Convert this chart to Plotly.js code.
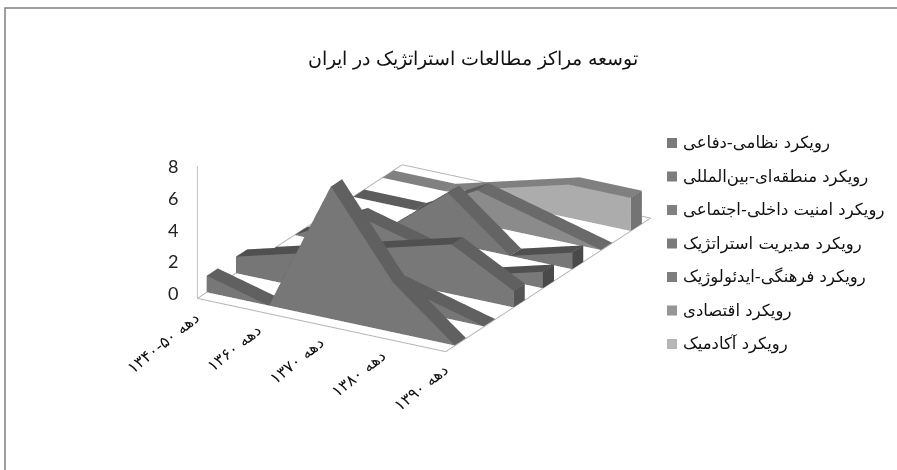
<!DOCTYPE html>
<html><head><meta charset="utf-8">
<script src="https://cdn.plot.ly/plotly-3.0.1.min.js"></script>
<style>html,body{margin:0;padding:0;background:#fff}#c{width:897px;height:470px}</style></head>
<body><div id="c"></div>
<script>
const chartTitle = "توسعه مراکز مطالعات استراتژیک در ایران";
const categories = ["\u200Fدهه \u2066۱۳۴۰-۵۰\u2069\u200F","\u200Fدهه ۱۳۶۰","\u200Fدهه ۱۳۷۰","\u200Fدهه ۱۳۸۰","\u200Fدهه ۱۳۹۰"];
const seriesNames = ["رویکرد نظامی-دفاعی","رویکرد منطقه‌ای-بین‌المللی","رویکرد امنیت داخلی-اجتماعی","رویکرد مدیریت استراتژیک","رویکرد فرهنگی-ایدئولوژیک","رویکرد اقتصادی","رویکرد آکادمیک"];
const nezami    = [1,0,8,3,0];
const mantaghe  = [1,2,2,1,0];
const amniat    = [0,1,2,3,1];
const modiriat  = [0,2,1,0,1];
const farhangi  = [0,0,3,0,1];
const eghtesadi = [0,0,2,1,0];
const akademik  = [0,0,1,2,2];
const seriesValues = [nezami,mantaghe,amniat,modiriat,farhangi,eghtesadi,akademik];
const zTicks = [0,2,4,6,8];
const frontColors = ["#777777","#767676","#787878","#797979","#777777","#8b8b8b","#acacac"];
const fallColors  = ["#606060","#606060","#606060","#606060","#646464","#6a6a6a","#808080"];
const riseColors  = ["#505050","#505050","#505050","#505050","#505050","#5c5c5c","#808080"];
const sideColors  = ["#4a4a4a","#4a4a4a","#555555","#4a4a4a","#4a4a4a","#5c5c5c","#747474"];
const legendColors= ["#7a7a7a","#7d7d7d","#808080","#7a7a7a","#7d7d7d","#969696","#b6b6b6"];
const FRONT = 0.32, BACK = 0.70;

const traces = seriesValues.map((vals,s)=>{
  const X=[],Y=[],Z=[],I=[],J=[],K=[],F=[];
  const yf=s+FRONT,yb=s+BACK;
  vals.forEach((v,c)=>{ X.push(c,c,c,c); Y.push(yf,yf,yb,yb); Z.push(0,v,v,0); });
  const quad=(a,b,d,e,col)=>{ I.push(a,a); J.push(b,d); K.push(d,e); F.push(col,col); };
  for(let c=0;c<vals.length-1;c++){
    const n=c*4,m=n+4;
    quad(n,m,m+1,n+1,frontColors[s]);
    quad(n+1,m+1,m+2,n+2,vals[c+1]<vals[c]?fallColors[s]:riseColors[s]);
  }
  const e=(vals.length-1)*4;
  quad(e,e+3,e+2,e+1,sideColors[s]);
  quad(0,3,2,1,sideColors[s]);
  return {type:"mesh3d",x:X,y:Y,z:Z,i:I,j:J,k:K,facecolor:F,flatshading:true,
    name:seriesNames[s],showlegend:false,
    lighting:{ambient:1,diffuse:0,specular:0,roughness:1,fresnel:0},hoverinfo:"name"};
});
traces.push({type:"scatter3d",mode:"lines",x:[0,4,4,0,0],y:[0,0,7,7,0],z:[0,0,0,0,0],line:{color:"#b5b5b5",width:2},showlegend:false,hoverinfo:"skip"});
traces.push({type:"scatter3d",mode:"lines",x:[0,0],y:[0,0],z:[0,8],line:{color:"#c0c0c0",width:2},showlegend:false,hoverinfo:"skip"});

const sceneAnn=[];
categories.forEach((t,c)=>sceneAnn.push({x:c,y:0,z:0,text:t,showarrow:false,textangle:-39,xshift:c==0?-34:-25,yshift:c==0?-44:-35,font:{family:"DejaVu Sans, Noto Sans, sans-serif",size:16,color:"#111"}}));
zTicks.forEach(v=>sceneAnn.push({x:0,y:0,z:v,text:String(v),showarrow:false,xshift:-24,yshift:(8-v)*0.75,font:{family:"Lato, Open Sans, sans-serif",size:18,color:"#222"}}));

// legend keys and labels
const W=897,H=470, legendTop=143, legendStep=33.5;
const shapes=[{type:"path",xref:"paper",yref:"paper",path:"M 0.0056 0 L 0.0056 0.983 L 1 0.983",line:{color:"#808080",width:1.5}}];
const annotations=[];
seriesNames.forEach((n,s)=>{
  const yc=legendTop+s*legendStep;
  shapes.push({type:"rect",xref:"paper",yref:"paper",x0:667/W,x1:677/W,y0:1-(yc+5)/H,y1:1-(yc-5)/H,fillcolor:legendColors[s],line:{width:0}});
  annotations.push({xref:"paper",yref:"paper",x:681/W,y:1-yc/H,xanchor:"left",yanchor:"middle",showarrow:false,text:n,font:{family:"DejaVu Sans, sans-serif",size:16.5,color:"#111"}});
});

const hidden={visible:false,showgrid:false,zeroline:false,showticklabels:false,showspikes:false};
const layout={width:897,height:470,margin:{l:0,r:0,t:0,b:0},paper_bgcolor:"#fff",showlegend:false,
 title:{text:chartTitle,x:0.527,xanchor:"center",y:0.875,yanchor:"middle",font:{family:"DejaVu Serif, Liberation Serif, serif",size:19,color:"#111"}},
 scene:{domain:{x:[0.1327,0.8127],y:[0.1906,0.9906]},
  aspectmode:"manual",aspectratio:{x:1.523,y:2.19,z:0.76},
  camera:{projection:{type:"orthographic"},up:{x:0,y:0,z:1},center:{x:0,y:0,z:0},eye:{x:1.11,y:-1.935,z:0.9}},
  xaxis:Object.assign({range:[0,4]},hidden),yaxis:Object.assign({range:[0,7]},hidden),zaxis:Object.assign({range:[0,8]},hidden),
  annotations:sceneAnn},
 shapes, annotations
};
Plotly.newPlot("c",traces,layout,{displayModeBar:false});
</script></body></html>
